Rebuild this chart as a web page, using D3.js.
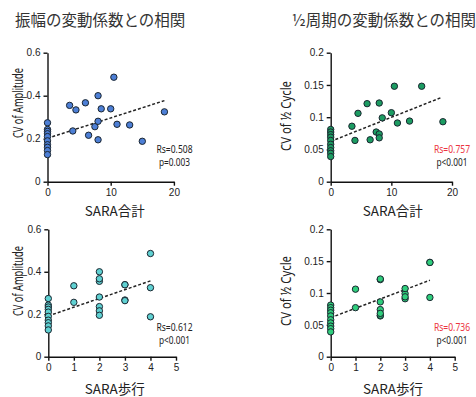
<!DOCTYPE html>
<html>
<head>
<meta charset="utf-8">
<script src="https://cdn.jsdelivr.net/npm/d3@7"></script>
<style>
  body { margin: 0; background: #fff; }
  svg { display: block; }
  .tick text { font-family: "Liberation Sans", Arial, sans-serif; font-size: 10px; fill: #222; }
  .domain, .tick line { stroke: #111; stroke-width: 1.4; }
</style>
</head>
<body>
<script>
// per subject values (26 subjects)
const saraTotal   = [0, 0, 0, 0, 0, 0, 0, 0, 0, 0, 3.5, 4, 4.5, 6, 6.5, 7.5, 8, 8, 8, 8.5, 10, 10.5, 11, 13, 15, 18.5];
const saraWalk    = [0, 0, 0, 0, 0, 0, 0, 0, 0, 0, 2, 2, 1, 2, 2, 1, 2, 2, 2, 3, 3, 4, 3, 3, 4, 4];
const cvAmplitude = [0.274, 0.243, 0.234, 0.223, 0.210, 0.190, 0.172, 0.160, 0.145, 0.126,
                     0.355, 0.236, 0.334, 0.367, 0.216, 0.256, 0.400, 0.281, 0.195, 0.339, 0.339, 0.486, 0.267, 0.264, 0.188, 0.325];
const cvHalfCycle = [0.081, 0.077, 0.073, 0.069, 0.064, 0.058, 0.053, 0.048, 0.044, 0.039,
                     0.086, 0.064, 0.106, 0.121, 0.065, 0.077, 0.122, 0.074, 0.068, 0.099, 0.107, 0.148, 0.091, 0.094, 0.148, 0.093];

// trend lines (intercept, slope, last x) and stats, one per panel
const fitIntercept = [0.202, 0.0625, 0.192, 0.0613];
const fitSlope     = [0.00946, 0.00373, 0.04125, 0.01468];
const fitXmax      = [18.5, 18.3, 4, 4];
const rsLabels     = ['Rs=0.508', 'Rs=0.757', 'Rs=0.612', 'Rs=0.736'];
const pLabels      = ['p=0.003', 'p<0.001', 'p<0.001', 'p<0.001'];

const titles   = ['振幅の変動係数との相関', '½周期の変動係数との相関'];
const xTitles  = ['SARA合計', 'SARA合計', 'SARA歩行', 'SARA歩行'];
const yTitles  = ['CV of Amplitude', 'CV of ½ Cycle', 'CV of Amplitude', 'CV of ½ Cycle'];
const xTicksTotal = [0, 10, 20];
const xTicksWalk  = [0, 1, 2, 3, 4, 5];
const yTicksAmp   = [0, 0.2, 0.4, 0.6];
const yTicksHalf  = [0, 0.05, 0.1, 0.15, 0.2];

const panels = [
  { xs: saraTotal, ys: cvAmplitude, xDom: [0, 20], yDom: [0, 0.6], xTicks: xTicksTotal, yTicks: yTicksAmp,
    xr: [47.5, 173.9], yr: [181.7, 52.7], fill: '#4d7fd6', rsColor: '#222', ylab: [17.5, 103], xlab: [114.7, 210], stat: [174.5, 148.5] },
  { xs: saraTotal, ys: cvHalfCycle, xDom: [0, 20], yDom: [0, 0.2], xTicks: xTicksTotal, yTicks: yTicksHalf,
    xr: [330.7, 452], yr: [181.7, 52.7], fill: '#1c9c62', rsColor: '#ec3540', ylab: [286, 116], xlab: [392.7, 210], stat: [452, 148.5] },
  { xs: saraWalk, ys: cvAmplitude, xDom: [0, 5], yDom: [0, 0.6], xTicks: xTicksWalk, yTicks: yTicksAmp,
    xr: [48.3, 176], yr: [356.7, 229.3], fill: '#5fd1d2', rsColor: '#222', ylab: [17.5, 281], xlab: [114.7, 388], stat: [174.5, 327] },
  { xs: saraWalk, ys: cvHalfCycle, xDom: [0, 5], yDom: [0, 0.2], xTicks: xTicksWalk, yTicks: yTicksHalf,
    xr: [330.7, 454.7], yr: [356.7, 229.3], fill: '#2fce7c', rsColor: '#ec3540', ylab: [286, 291], xlab: [393, 388], stat: [452, 327] }
];

const svg = d3.select('body')
  .append('svg')
  .attr('width', 476)
  .attr('height', 397);

svg.selectAll('text.title')
  .data(titles)
  .enter()
  .append('text')
  .attr('class', 'title')
  .attr('x', (d, i) => i ? 476 : 15)
  .attr('y', 18.5)
  .attr('text-anchor', (d, i) => i ? 'end' : 'start')
  .attr('dominant-baseline', 'central')
  .style('font-family', '"Noto Sans CJK JP", sans-serif')
  .style('font-weight', 400)
  .style('font-size', '15.5px')
  .style('fill', '#333')
  .text(d => d);

panels.forEach((p, i) => drawPanel(p, i));

function drawPanel(p, i) {
  const x = d3.scaleLinear().domain(p.xDom).range(p.xr);
  const y = d3.scaleLinear().domain(p.yDom).range(p.yr);
  const g = svg.append('g');

  g.append('g')
    .attr('transform', `translate(0,${p.yr[0]})`)
    .call(d3.axisBottom(x).tickValues(p.xTicks).tickSize(4).tickSizeOuter(0).tickPadding(3).tickFormat(d => String(d)));

  g.append('g')
    .attr('transform', `translate(${p.xr[0]},0)`)
    .call(d3.axisLeft(y).tickValues(p.yTicks).tickSize(4).tickSizeOuter(0).tickPadding(3).tickFormat(d => String(d)));

  // dashed trend
  const x1 = fitXmax[i];
  g.append('line')
    .attr('x1', x(0)).attr('y1', y(fitIntercept[i]))
    .attr('x2', x(x1)).attr('y2', y(fitIntercept[i] + fitSlope[i] * x1))
    .attr('stroke', '#222')
    .attr('stroke-width', 1.5)
    .attr('stroke-dasharray', '3,2');

  g.selectAll('circle')
    .data(p.xs.map((v, k) => [v, p.ys[k]]))
    .enter()
    .append('circle')
    .attr('cx', d => x(d[0]))
    .attr('cy', d => y(d[1]))
    .attr('r', 3.2)
    .attr('fill', p.fill)
    .attr('stroke', '#1b2630')
    .attr('stroke-width', 1);

  g.append('text')
    .attr('transform', `translate(${p.ylab[0]},${p.ylab[1]}) rotate(-90)`)
    .attr('text-anchor', 'middle')
    .attr('dominant-baseline', 'central')
    .attr('textLength', 70)
    .attr('lengthAdjust', 'spacingAndGlyphs')
    .style('font-family', '"Noto Sans", sans-serif')
    .style('font-size', '13.5px')
    .style('fill', '#222')
    .text(yTitles[i]);

  g.append('text')
    .attr('x', p.xlab[0])
    .attr('y', p.xlab[1])
    .attr('text-anchor', 'middle')
    .attr('dominant-baseline', 'central')
    .style('font-family', '"Noto Sans CJK JP", sans-serif')
    .style('font-size', '13.5px')
    .style('fill', '#222')
    .text(xTitles[i]);

  g.append('text')
    .attr('x', p.stat[0])
    .attr('y', p.stat[1])
    .attr('text-anchor', 'middle')
    .attr('dominant-baseline', 'central')
    .attr('textLength', 36)
    .attr('lengthAdjust', 'spacingAndGlyphs')
    .style('font-family', '"Noto Sans", sans-serif')
    .style('font-size', '10px')
    .style('fill', p.rsColor)
    .text(rsLabels[i]);

  g.append('text')
    .attr('x', p.stat[0])
    .attr('y', p.stat[1] + 13)
    .attr('text-anchor', 'middle')
    .attr('dominant-baseline', 'central')
    .attr('textLength', 31)
    .attr('lengthAdjust', 'spacingAndGlyphs')
    .style('font-family', '"Noto Sans", sans-serif')
    .style('font-size', '10px')
    .style('fill', '#222')
    .text(pLabels[i]);
}
</script>
</body>
</html>
